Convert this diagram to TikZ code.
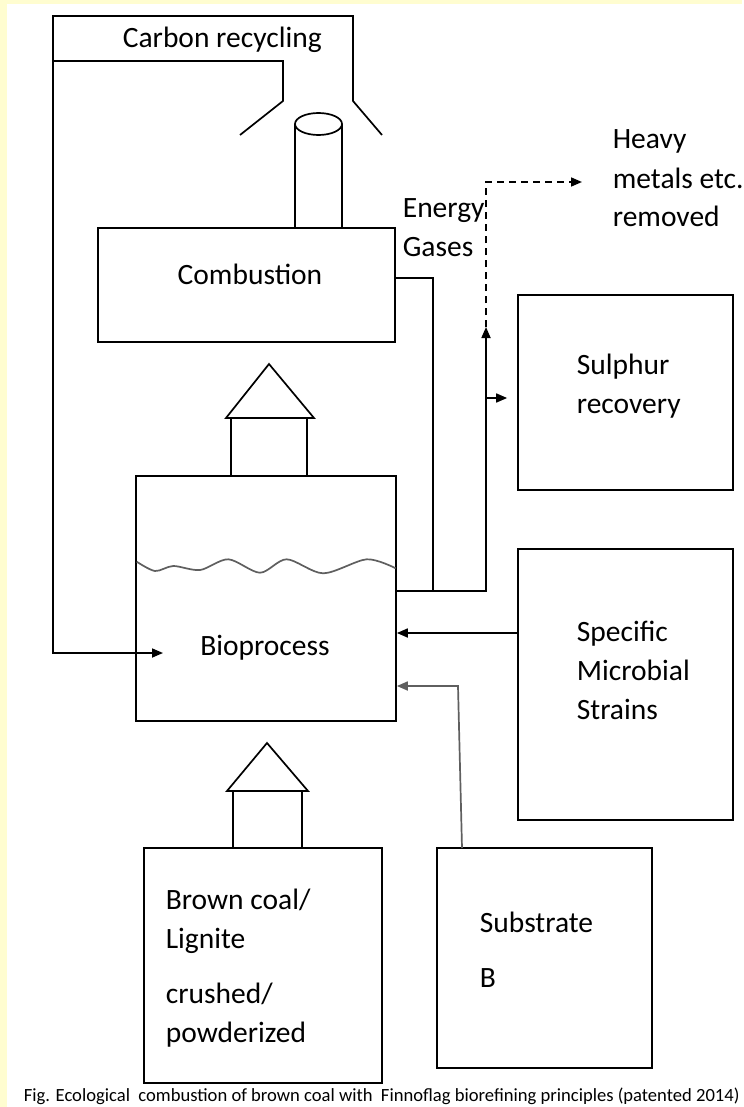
\documentclass[tikz,border=0pt]{standalone}
\usepackage{fontspec}
\setmainfont{Carlito}
\usetikzlibrary{arrows.meta,calc}

\definecolor{pageyellow}{RGB}{255,253,208}
\definecolor{inkgray}{RGB}{95,95,95}

\begin{document}
\begin{tikzpicture}[x=1pt,y=-1pt,>={Triangle[length=11pt,width=9pt]},
 line width=1.7pt,font=\fontsize{29.5}{39}\selectfont,
 unit/.style={draw,line width=1.7pt,inner sep=0pt},
 lbl/.style={anchor=base west,inner sep=0pt,align=left}]
% page
\fill[pageyellow] (0,0) rectangle (742,1107);
\fill[white] (7,4) rectangle (742,1107);

% process units
\node[unit,minimum width=297pt,minimum height=114pt] (comb) at (246.5,285) {};
\node[unit,minimum width=260pt,minimum height=245pt] (bio) at (266,598.5) {};
\node[unit,minimum width=215pt,minimum height=195pt] (sulph) at (625.5,392.5) {};
\node[unit,minimum width=215pt,minimum height=271pt] (strains) at (625.5,684.5) {};
\node[unit,minimum width=238pt,minimum height=235pt] (coal) at (263,965.5) {};
\node[unit,minimum width=215pt,minimum height=220pt] (subst) at (544.5,958) {};

% labels (base = last line)
\node[lbl,anchor=base] (combtxt) at (250,284) {Combustion};
\node[lbl,anchor=base] (biotxt) at (265,655) {Bioprocess};
\node[lbl] (sulphtxt) at (576,413) {Sulphur\\recovery};
\node[lbl] (strainstxt) at (576,719) {Specific\\Microbial\\Strains};
\node[lbl] (coaltxt) at (165,1042) {Brown coal/\\Lignite\\[16pt]crushed/\\powderized};
\node[lbl] (substtxt) at (479,987) {Substrate\\[16pt]B};
\node[lbl] (gastxt) at (402,256) {Energy\\Gases};
\node[lbl] (metalstxt) at (612,227) {Heavy\\metals etc.\\removed};
\node[lbl] (carbontxt) at (122,48) {Carbon recycling};

% chimney and hood
\draw (295,228) -- (295,124) (342,124) -- (342,228);
\draw (318.5,124) ellipse[x radius=23.5,y radius=11];
\coordinate (biofeed) at (163,653);
\draw[->] (382,135) -- (353,101) -- (353,16) -- (53,16) |- (biofeed);
\draw (240,135) -- (283,101) |- (53,61);

% feed arrows between units
\draw (231,476) |- (307,418) -- (307,476);
\draw (226,418) -- (269,364) -- (314,418) -- cycle;
\draw (233,848) |- (302,791) -- (302,848);
\draw (227,791) -- (267,743) -- (308,791) -- cycle;

% liquid level
\draw[inkgray] plot[smooth] coordinates {(136.7,561.7) (155,571) (173.3,566) (200,570)
 (228.3,559.3) (260,572.7) (286.7,559.3) (323.3,573.3) (366.7,559.3) (395.7,568.3)};

% off-gas line
\coordinate (vent) at (433,278);
\coordinate (gasjoin) at (486,591);
\coordinate (scrub) at (486,327);
\coordinate (metalsin) at (582,182);
\coordinate (sbranch) at (486,398);
\draw (comb.east |- vent) -- (vent) -- (vent |- gasjoin);
\draw[->] (bio.east |- gasjoin) -- (gasjoin) -- (scrub);
\draw[->,dashed,dash pattern=on 7pt off 5pt] (scrub) |- (metalsin);
\draw[->] (sbranch) -- ([xshift=-10pt]sulph.west |- sbranch);

% inputs to the bioprocess
\coordinate (strainsout) at ([yshift=51.5pt]strains.west);
\draw[->] (strainsout) -- (strainsout -| bio.east);
\coordinate (substout) at (462,848);
\coordinate (substbend) at (458,686);
\draw[->,inkgray] (substout) -- (substbend) -- (substbend -| bio.east);

\node[anchor=base west,inner sep=0pt,font=\fontsize{18.6}{22}\selectfont] (caption) at (23,1101)
 {Fig. Ecological~ combustion of brown coal with~ Finnoflag biorefining principles (patented 2014)};
\end{tikzpicture}
\end{document}
